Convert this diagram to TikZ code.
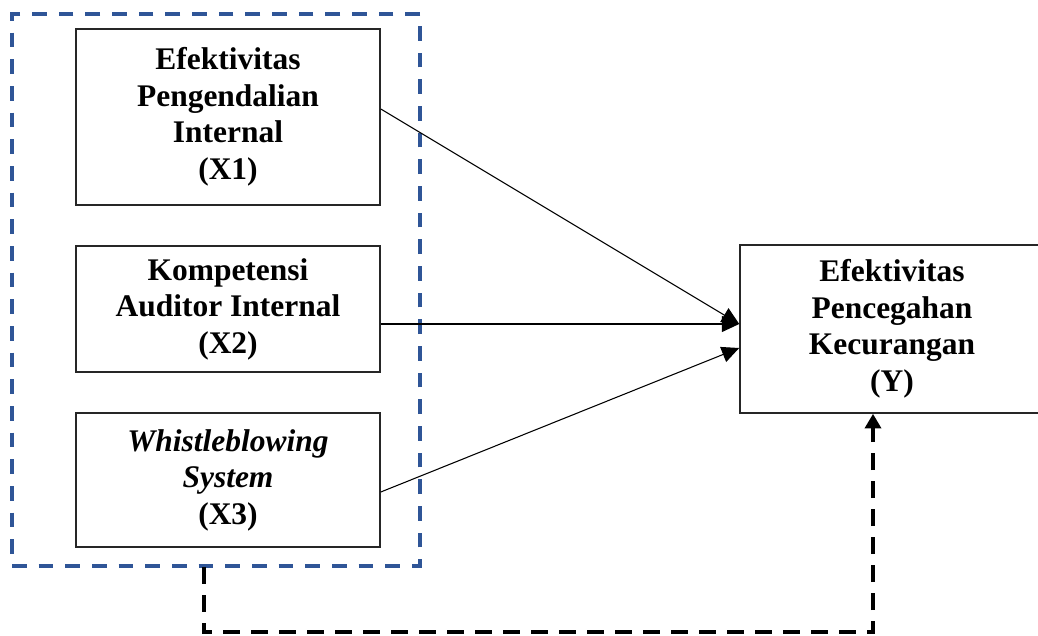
\documentclass[tikz,border=0pt]{standalone}
\usepackage{fontspec}
\setmainfont{Liberation Serif}
\usetikzlibrary{calc,arrows.meta}
\definecolor{grpblue}{RGB}{47,85,151}
\begin{document}
\begin{tikzpicture}[x=0.75pt,y=-0.75pt,
  varbox/.style={draw=black!85, line width=1.2pt, inner sep=0pt, align=center,
    minimum width=228pt, font=\fontsize{23.6}{27.4}\selectfont\bfseries},
  grpbox/.style={draw=grpblue, line width=2.7pt, dash pattern=on 11pt off 9pt, inner sep=0pt,
    minimum width=306pt, minimum height=414pt},
  link/.style={line width=0.8pt, -{Triangle[length=13pt,width=12pt]}},
  feedback/.style={line width=2.7pt, dash pattern=on 12.5pt off 8.5pt, -{Triangle[length=11pt,width=12pt]}}]
\useasboundingbox (0,0) rectangle (1038,635);
\clip (0,0) rectangle (1038,635);
\fill[white] (0,0) rectangle (1038,635);

\node[grpbox] (grp) at (216,290) {};
\node[varbox, minimum height=132pt] (x1) at (228,117) {Efektivitas\\Pengendalian\\Internal\\(X1)};
\node[varbox, minimum height=94.5pt] (x2) at (228,309) {Kompetensi\\Auditor Internal\\(X2)};
\node[varbox, minimum height=100.5pt] (x3) at (228,480) {\textit{Whistleblowing}\\\textit{System}\\(X3)};
\node[varbox, minimum height=126pt] (y) at (892,329) {Efektivitas\\Pencegahan\\Kecurangan\\(Y)};

\coordinate (ya) at ($(y.west)+(0,-5)$);
\coordinate (yb) at ($(y.west)+(0,19)$);
\draw[link] ($(x1.east)+(0,-8)$) -- (ya);
\draw[link] (x2.east |- ya) -- (ya);
\draw[link] ($(x3.east)+(0,12)$) -- (yb);

\coordinate (fa) at (204,567);
\coordinate (fb) at (204,632);
\coordinate (fc) at (873,632);
\draw[feedback] (fa) -- (fb) -- (fc) -- (fc |- y.south);
\end{tikzpicture}
\end{document}
